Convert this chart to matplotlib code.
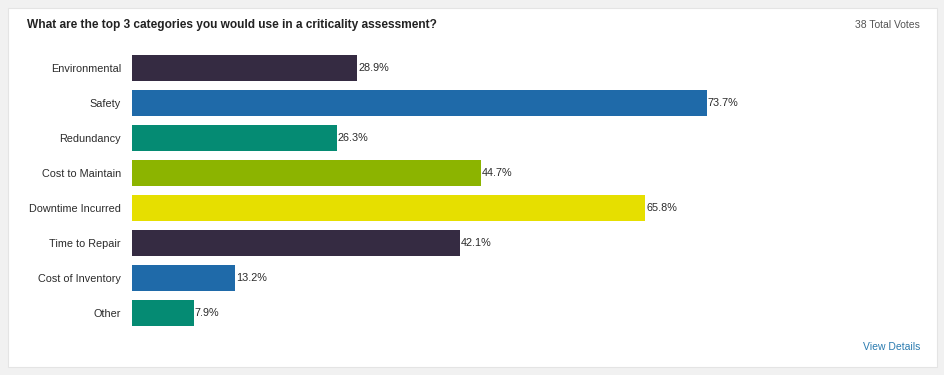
import matplotlib
matplotlib.use("Agg")
import matplotlib.pyplot as plt
from matplotlib.patches import Rectangle

plt.rcParams['font.family'] = ['Liberation Sans', 'DejaVu Sans']

# data
categories = ["Environmental", "Safety", "Redundancy", "Cost to Maintain",
              "Downtime Incurred", "Time to Repair", "Cost of Inventory", "Other"]
percents = [28.9, 73.7, 26.3, 44.7, 65.8, 42.1, 13.2, 7.9]
bar_colors = ["#352b42", "#1f6aa9", "#058b73", "#8cb400",
              "#e6df00", "#352b42", "#1f6aa9", "#058b73"]
title = "What are the top 3 categories you would use in a criticality assessment?"
total_votes = "38 Total Votes"

W, H = 945, 375
fig = plt.figure(figsize=(W / 100, H / 100), dpi=100)
fig.patch.set_facecolor("#f1f1f1")

# white card behind everything
card = Rectangle((8 / W, 1 - 367 / H), (937 - 8) / W, (367 - 8) / H,
                 transform=fig.transFigure, facecolor="white",
                 edgecolor="#e4e4e4", linewidth=0.8, zorder=-10)
fig.patches.append(card)

ax = fig.add_axes([132 / W, 1 - 330.5 / H, (912 - 132) / W, (330.5 - 50.5) / H])
ax.set_zorder(5)
ax.set_facecolor("none")
ypos = list(range(len(categories)))
ax.barh(ypos, percents, height=0.74, color=bar_colors, edgecolor="none")
ax.set_xlim(0, 100)
ax.set_ylim(len(categories) - 0.5, -0.5)
for spine in ax.spines.values():
    spine.set_visible(False)
ax.set_xticks([])
ax.set_yticks(ypos)
ax.set_yticklabels(categories, fontsize=7.8, color="#2b2b2b")
ax.tick_params(axis="y", length=0, pad=8)

for y, v in zip(ypos, percents):
    ax.text(v + 0.1, y, f"{v}%", va="center", ha="left", fontsize=7.8, color="#2b2b2b")

fig.text(27 / W, 1 - 25 / H, title, fontsize=8.6, fontweight="bold",
         color="#222222", va="center", ha="left")
fig.text(920 / W, 1 - 25 / H, total_votes, fontsize=7.5, color="#555555",
         va="center", ha="right")
fig.text(920 / W, 1 - 347 / H, "View Details", fontsize=7.5, color="#2a7bb0",
         va="center", ha="right")

fig.savefig("out.png", dpi=100, facecolor=fig.get_facecolor())
